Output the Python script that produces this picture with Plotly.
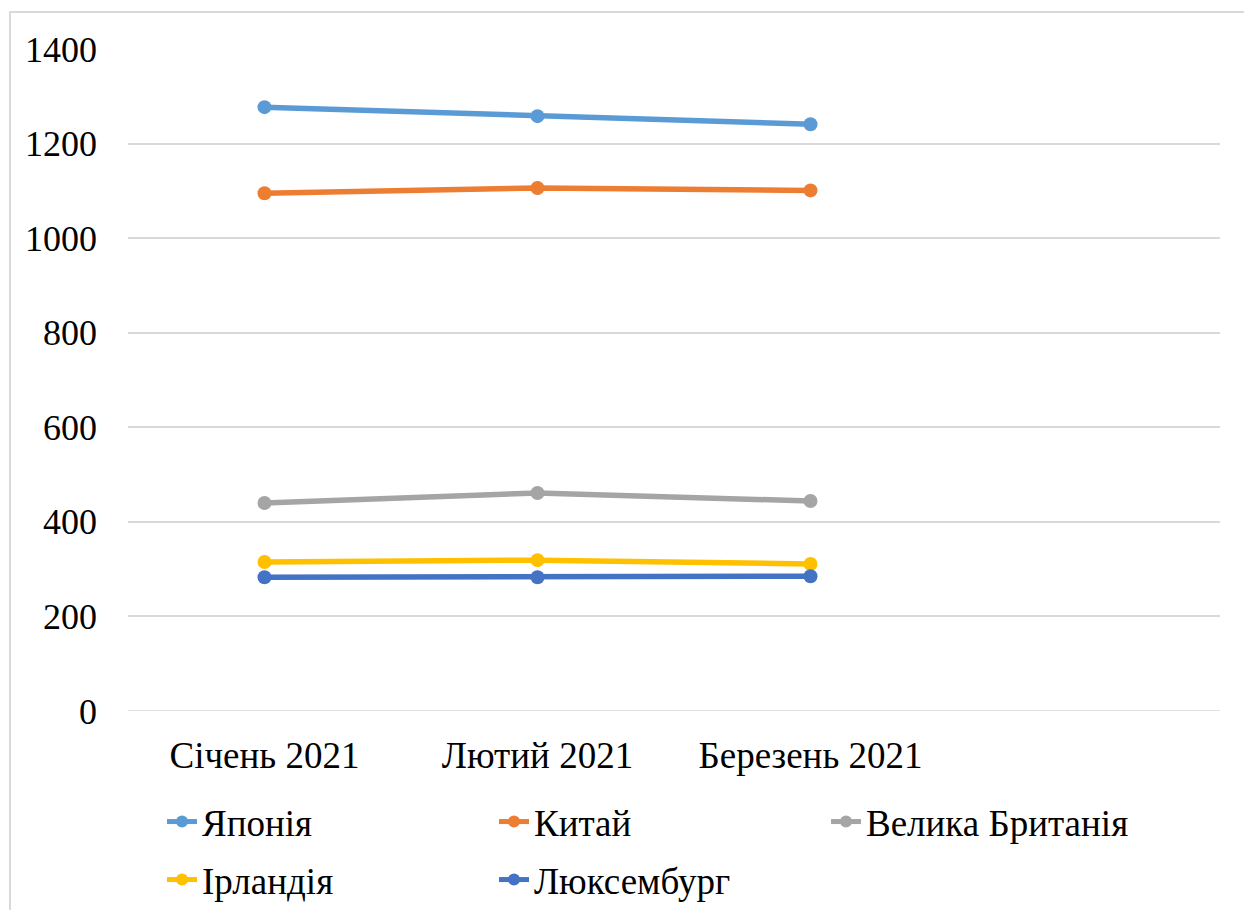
import plotly.graph_objects as go

months = ["Січень 2021", "Лютий 2021", "Березень 2021"]
series_names = ["Японія", "Китай", "Велика Британія", "Ірландія", "Люксембург"]
japan = [1277, 1258, 1241]
china = [1095, 1106, 1101]
uk = [440, 461, 444]
ireland = [315, 319, 311]
luxembourg = [283, 283, 285]
colors = ["#5b9bd5", "#ed7d31", "#a5a5a5", "#ffc000", "#4472c4"]
y_ticks = [0, 200, 400, 600, 800, 1000, 1200, 1400]

values = [japan, china, uk, ireland, luxembourg]
xpos = list(range(len(months)))

fig = go.Figure()
for i, (name, vals, col) in enumerate(zip(series_names, values, colors)):
    fig.add_trace(go.Scatter(
        x=xpos, y=vals, name=name, mode="lines+markers",
        line=dict(color=col, width=5.5),
        marker=dict(color=col, size=14),
        legend="legend" if i < 3 else "legend2",
    ))

font = "Times New Roman, Liberation Serif, DejaVu Serif, serif"
W, H = 1244, 910
L, R, T, B = 128, 24, 49, 199
pw, ph = W - L - R, H - T - B

leg_common = dict(
    orientation="h", x=(162 - L) / pw, xanchor="left", yanchor="middle",
    entrywidth=287, entrywidthmode="pixels",
    font=dict(family=font, size=37, color="black"),
    itemsizing="constant", bgcolor="rgba(0,0,0,0)",
)

fig.update_layout(
    width=W, height=H,
    margin=dict(l=L, r=R, t=T, b=B, autoexpand=False),
    paper_bgcolor="white", plot_bgcolor="white",
    font=dict(family=font, size=36, color="black"),
    showlegend=True,
    legend=dict(leg_common, y=(711 - 822) / ph),
    legend2=dict(leg_common, y=(711 - 880) / ph),
    xaxis=dict(
        range=[-0.5, 3.5], tickmode="array", tickvals=xpos, ticktext=months,
        tickfont=dict(family=font, size=37, color="black"),
        showgrid=False, zeroline=False, showline=False, ticks="",
        ticklabelstandoff=19, fixedrange=True,
    ),
    yaxis=dict(
        range=[0, 1400], tickmode="array", tickvals=y_ticks,
        showgrid=True, gridcolor="#d9d9d9", gridwidth=1.5,
        zeroline=False, showline=False, ticks="",
        ticklabelstandoff=30, fixedrange=True,
    ),
    shapes=[dict(
        type="rect", xref="paper", yref="paper",
        x0=(10 - L) / pw, x1=(1260 - L) / pw,
        y0=(711 - 930) / ph, y1=(711 - 12) / ph,
        line=dict(color="#d9d9d9", width=2), fillcolor="rgba(0,0,0,0)",
        layer="below",
    ), dict(
        type="line", xref="paper", yref="y",
        x0=0, x1=1, y0=0, y1=0,
        line=dict(color="#d9d9d9", width=1.5), layer="below",
    )],
)

fig.write_html("out.html", config={"displayModeBar": False},
               post_script="document.body.style.margin='0';")
